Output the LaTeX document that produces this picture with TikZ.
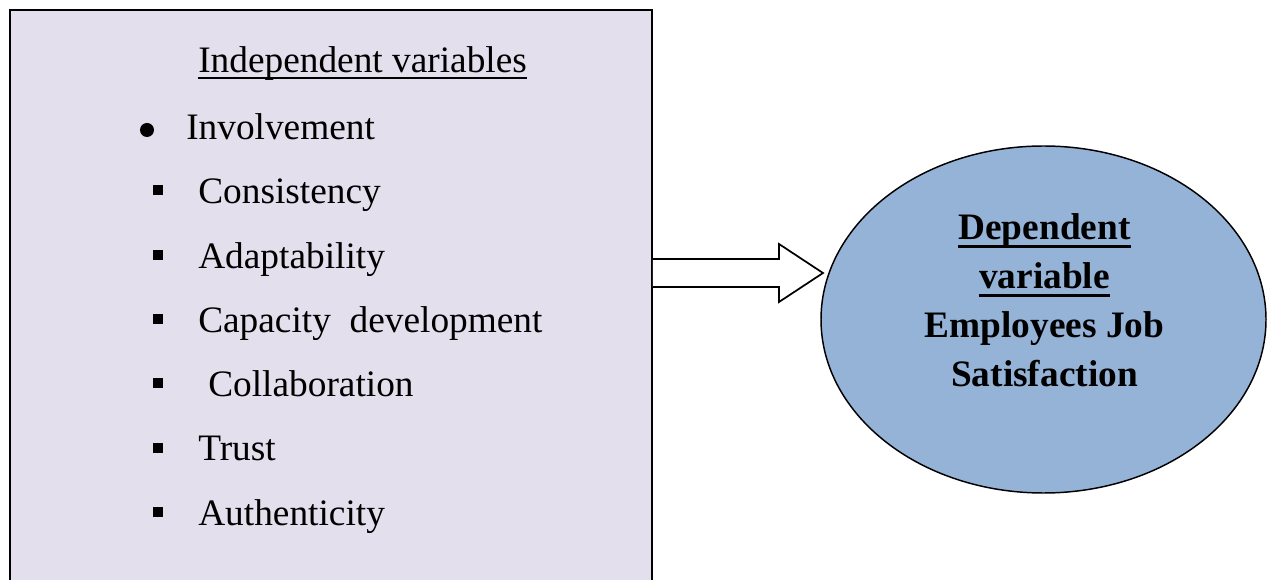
\documentclass[tikz,border=0pt]{standalone}
\usepackage{fontspec}
\setmainfont{Liberation Serif}
\usetikzlibrary{calc,shapes.geometric}
\definecolor{boxfill}{HTML}{E4DFEC}
\definecolor{ellfill}{HTML}{95B3D7}
\tikzset{
  txt/.style={anchor=base west, inner sep=0pt, font=\fontsize{28}{34}\selectfont},
  btxt/.style={anchor=base, inner sep=0pt, font=\fontsize{28}{34}\selectfont\bfseries},
  sqbullet/.style={fill=black, minimum size=8pt, inner sep=0pt},
  rdbullet/.style={circle, fill=black, minimum size=10.5pt, inner sep=0pt},
  ivstyle/.style={draw=black, line width=1.3pt, fill=boxfill, minimum width=481.5pt, minimum height=457.5pt, inner sep=0pt},
  dvstyle/.style={ellipse, draw=black, line width=1.1pt, fill=ellfill, minimum width=333.75pt, minimum height=260.25pt, inner sep=0pt},
  blockarrow/.style={draw=black, fill=white, line width=1.3pt, line join=miter},
}
\begin{document}
\begin{tikzpicture}[x=0.75pt,y=-0.75pt]
\clip (0,0) rectangle (1274,580);
\fill[white] (0,0) rectangle (1274,580);

% list of independent variables
\node[ivstyle] (ivbox) at (331,315) {};
\node[txt] (head) at (198,73) {Independent variables};
\draw[line width=1.3pt] ([yshift=-3.8pt]head.base west) -- ([yshift=-3.8pt]head.base east);

\node[rdbullet] (b1) at (147,130) {};
\node[txt] (i1) at (186,140) {Involvement};
\node[sqbullet] (b2) at (158,190) {};
\node[txt] (i2) at (198,204) {Consistency};
\node[sqbullet] (b3) at (158,255) {};
\node[txt] (i3) at (198,269) {Adaptability};
\node[sqbullet] (b4) at (158,319) {};
\node[txt] (i4) at (198,333) {Capacity\ \ development};
\node[sqbullet] (b5) at (158,383) {};
\node[txt] (i5) at (208,397) {Collaboration};
\node[sqbullet] (b6) at (158,448) {};
\node[txt] (i6) at (198,461) {Trust};
\node[sqbullet] (b7) at (158,512) {};
\node[txt] (i7) at (198,525) {Authenticity};

% dependent variable
\node[dvstyle] (dvell) at (1043.5,319.5) {};
\node[btxt] (d1) at (1044.5,240) {Dependent};
\draw[line width=2pt] ([yshift=-4.8pt]d1.base west) -- ([yshift=-4.8pt]d1.base east);
\node[btxt] (d2) at (1044.5,289) {variable};
\draw[line width=2pt] ([yshift=-4.8pt]d2.base west) -- ([yshift=-4.8pt]d2.base east);
\node[btxt] (d3) at (1044.5,338) {Employees Job};
\node[btxt] (d4) at (1044.5,387) {Satisfaction};

% block arrow from the list to the ellipse
\coordinate (tip) at (823,273);
\coordinate (tail) at (ivbox.east |- tip);
\draw[blockarrow] ($(tail)+(0,-14)$) -- ($(tip)+(-44,-14)$) -- ($(tip)+(-44,-29)$)
  -- (tip) -- ($(tip)+(-44,29)$) -- ($(tip)+(-44,14)$) -- ($(tail)+(0,14)$);
\end{tikzpicture}
\end{document}
